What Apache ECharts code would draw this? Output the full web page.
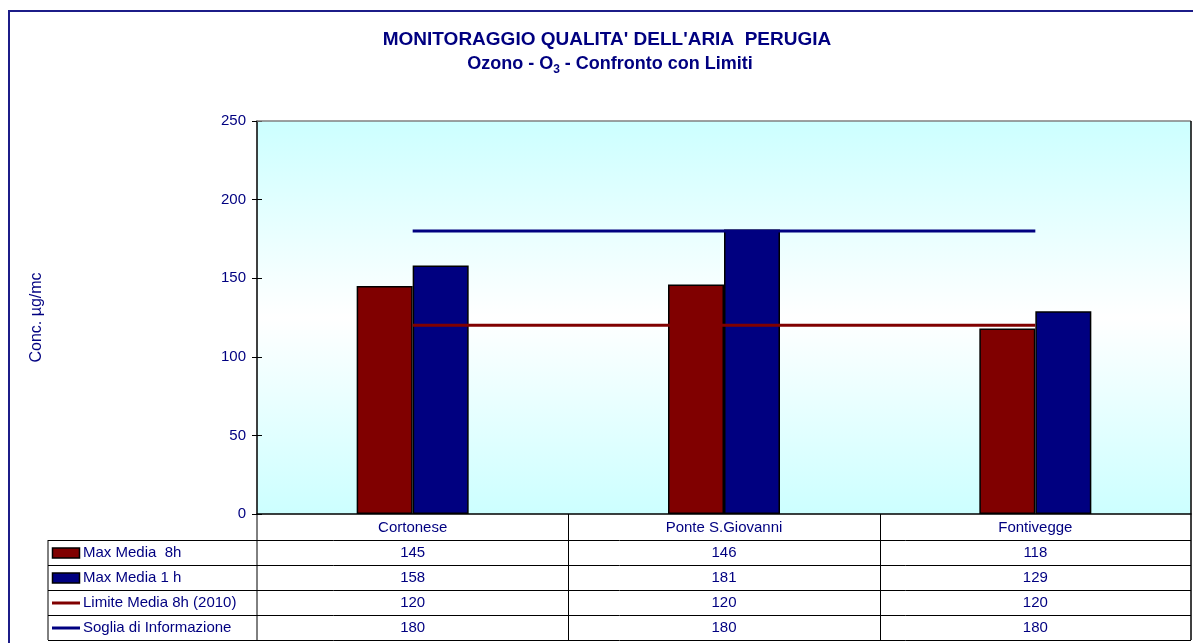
<!DOCTYPE html>
<html>
<head>
<meta charset="utf-8">
<script src="https://cdn.jsdelivr.net/npm/echarts@6/dist/echarts.min.js"></script>
<style>html,body{margin:0;padding:0;background:#fff}#c{width:1193px;height:643px}</style>
</head>
<body>
<div id="c"></div>
<script>
// ---- data ----
const categories = ['Cortonese', 'Ponte S.Giovanni', 'Fontivegge'];
const maxMedia8h = [145, 146, 118];
const maxMedia1h = [158, 181, 129];
const limiteMedia8h = [120, 120, 120];
const sogliaInformazione = [180, 180, 180];
const seriesNames = ['Max Media  8h', 'Max Media 1 h', 'Limite Media 8h (2010)', 'Soglia di Informazione'];
const yMin = 0, yMax = 250, yStep = 50;
const titleText = "MONITORAGGIO QUALITA' DELL'ARIA  PERUGIA";
const yName = 'Conc. µg/mc';

// ---- layout / style ----
const FONT = "'Liberation Sans', Arial, sans-serif";
const NAVY = '#000080', DARKRED = '#800000';
const GL = 257, GR = 1191, GT = 121, GB = 514;
const W = 1193, H = 643;
const tableLeft = 48, headerBottom = 540, rowH = 25;
const FS = 15;

const chart = echarts.init(document.getElementById('c'), null, {renderer: 'canvas'});

const seriesData = [maxMedia8h, maxMedia1h, limiteMedia8h, sogliaInformazione];
const seriesColors = [DARKRED, NAVY, DARKRED, NAVY];
const seriesKinds = ['bar', 'bar', 'line', 'line'];

const graphic = [];
// outer frame
graphic.push({type: 'rect', shape: {x: 9, y: 11, width: 1300, height: 800}, style: {fill: 'none', stroke: '#1c1c88', lineWidth: 2}, silent: true});
// titles
graphic.push({type: 'text', x: 607, y: 40, style: {text: titleText, font: 'bold 19px ' + FONT, fill: NAVY, align: 'center', verticalAlign: 'middle'}});
graphic.push({type: 'text', x: 610, y: 64, style: {
  text: '{a|Ozono - O}{s|3}{a| - Confronto con Limiti}', align: 'center', verticalAlign: 'middle',
  rich: {a: {font: 'bold 18px ' + FONT, fill: NAVY, lineHeight: 22},
         s: {font: 'bold 12px ' + FONT, fill: NAVY, padding: [11, 0, 0, 0], lineHeight: 22}}
}});
// plot top border (gray)
graphic.push({type: 'line', shape: {x1: GL, y1: GT, x2: GR, y2: GT}, style: {stroke: '#808080', lineWidth: 1.5}, z: 10});
// plot right border
graphic.push({type: 'line', shape: {x1: GR, y1: GT, x2: GR, y2: headerBottom + rowH * 4}, style: {stroke: '#000', lineWidth: 1.5}, z: 10});

// data table
const colW = (GR - GL) / categories.length;
const tableBottom = headerBottom + rowH * seriesNames.length;
graphic.push({type: 'line', shape: {x1: GL, y1: GB, x2: GL, y2: tableBottom}, style: {stroke: '#000', lineWidth: 1}, z: 10});
graphic.push({type: 'line', shape: {x1: tableLeft, y1: headerBottom, x2: tableLeft, y2: tableBottom}, style: {stroke: '#000', lineWidth: 1}});
for (let j = 1; j < categories.length; j++) {
  const x = Math.round(GL + j * colW) + 0.5;
  graphic.push({type: 'line', shape: {x1: x, y1: GB, x2: x, y2: tableBottom}, style: {stroke: '#000', lineWidth: 1}});
}
for (let i = 0; i <= seriesNames.length; i++) {
  const y = headerBottom + i * rowH + 0.5;
  graphic.push({type: 'line', shape: {x1: tableLeft, y1: y, x2: GR, y2: y}, style: {stroke: '#000', lineWidth: 1}});
}
seriesNames.forEach((name, i) => {
  const top = headerBottom + i * rowH;
  const cy = top + rowH / 2 + 0.5;
  if (seriesKinds[i] === 'bar') {
    graphic.push({type: 'rect', shape: {x: 52.5, y: cy - 5, width: 27, height: 10}, style: {fill: seriesColors[i], stroke: '#000', lineWidth: 1.5}});
  } else {
    graphic.push({type: 'line', shape: {x1: 52, y1: cy, x2: 80, y2: cy}, style: {stroke: seriesColors[i], lineWidth: 3}});
  }
  graphic.push({type: 'text', x: 83, y: cy, style: {text: name, font: FS + 'px ' + FONT, fill: NAVY, align: 'left', verticalAlign: 'middle'}});
  seriesData[i].forEach((v, j) => {
    graphic.push({type: 'text', x: GL + (j + 0.5) * colW, y: cy, style: {text: String(v), font: FS + 'px ' + FONT, fill: NAVY, align: 'center', verticalAlign: 'middle'}});
  });
});

const option = {
  animation: false,
  grid: {
    left: GL, right: W - GR, top: GT, bottom: H - GB, show: true, borderWidth: 0,
    backgroundColor: {type: 'linear', x: 0, y: 0, x2: 0, y2: 1,
      colorStops: [{offset: 0, color: '#ccffff'}, {offset: 0.5, color: '#ffffff'}, {offset: 1, color: '#ccffff'}]}
  },
  xAxis: {
    type: 'category', data: categories, boundaryGap: true,
    axisLine: {lineStyle: {color: '#000', width: 1.5}},
    axisTick: {show: false},
    axisLabel: {color: NAVY, fontFamily: FONT, fontSize: FS, margin: 6},
    splitLine: {show: false}
  },
  yAxis: [{
    type: 'value', min: yMin, max: yMax, interval: yStep,
    name: yName, nameLocation: 'middle', nameGap: 212, nameRotate: 90,
    nameTextStyle: {color: NAVY, fontFamily: FONT, fontSize: 16},
    axisLine: {show: true, lineStyle: {color: '#000', width: 1.5}},
    axisTick: {show: true, length: 5, lineStyle: {color: '#000'}},
    axisLabel: {color: NAVY, fontFamily: FONT, fontSize: FS, margin: 11},
    splitLine: {show: false}
  }, {
    type: 'value', min: yMin, max: yMax, interval: yStep, position: 'left',
    axisLine: {show: false},
    axisTick: {show: true, inside: true, length: 5, lineStyle: {color: '#000'}},
    axisLabel: {show: false},
    splitLine: {show: false}
  }],
  series: [
    {name: seriesNames[0], type: 'bar', data: maxMedia8h, barWidth: 56, barGap: '0%',
     itemStyle: {color: DARKRED, borderColor: '#000', borderWidth: 1.5}, z: 2},
    {name: seriesNames[1], type: 'bar', data: maxMedia1h, barWidth: 56, barGap: '0%',
     itemStyle: {color: NAVY, borderColor: '#000', borderWidth: 1.5}, z: 2},
    {name: seriesNames[2], type: 'line', data: limiteMedia8h, symbol: 'none',
     lineStyle: {color: DARKRED, width: 3}, z: 5},
    {name: seriesNames[3], type: 'line', data: sogliaInformazione, symbol: 'none',
     lineStyle: {color: NAVY, width: 3}, z: 5}
  ],
  graphic: graphic
};
chart.setOption(option);
</script>
</body>
</html>
